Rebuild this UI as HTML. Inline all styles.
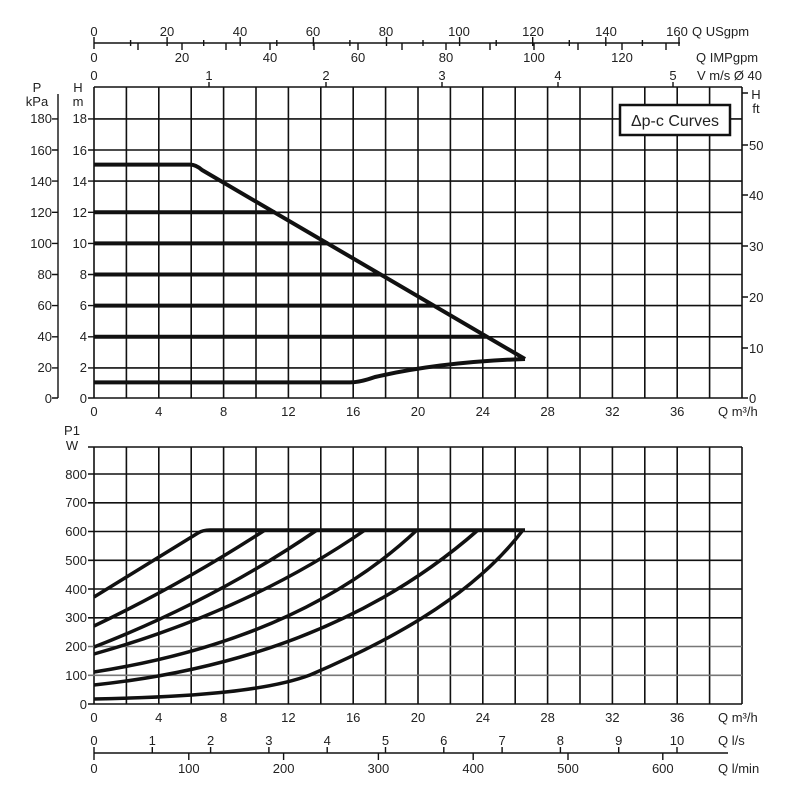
<!DOCTYPE html>
<html><head><meta charset="utf-8"><style>
html,body{margin:0;padding:0;background:#fff;}
svg text{font-family:"Liberation Sans",sans-serif;font-size:13px;fill:#222;}
</style></head><body>
<svg width="800" height="800" viewBox="0 0 800 800" xmlns="http://www.w3.org/2000/svg">
<g stroke="#111" stroke-width="1.6" fill="none">
<path d="M94,87V398M126.4,87V398M158.8,87V398M191.2,87V398M223.6,87V398M256,87V398M288.4,87V398M320.8,87V398M353.2,87V398M385.6,87V398M418,87V398M450.4,87V398M482.8,87V398M515.2,87V398M547.6,87V398M580,87V398M612.4,87V398M644.8,87V398M677.2,87V398M709.6,87V398M742,87V398"/>
<path d="M94,87H742M94,118.9H742M94,150H742M94,181.1H742M94,212.3H742M94,243.4H742M94,274.5H742M94,305.6H742M94,336.8H742M94,367.9H742M94,398H742"/>
<path d="M94,447V704M126.4,447V704M158.8,447V704M191.2,447V704M223.6,447V704M256,447V704M288.4,447V704M320.8,447V704M353.2,447V704M385.6,447V704M418,447V704M450.4,447V704M482.8,447V704M515.2,447V704M547.6,447V704M580,447V704M612.4,447V704M644.8,447V704M677.2,447V704M709.6,447V704M742,447V704"/>
<path d="M88,447H742M88,474H742M88,502.8H742M88,531.5H742M88,560.3H742M88,589H742M88,617.8H742M88,704H742"/>
</g>
<path d="M88,646.5H742M88,675.3H742" stroke="#777" stroke-width="1.6"/>
<g stroke="#111" stroke-width="1.4">
<path d="M58,94V398M52,118.9H58M52,150H58M52,181.1H58M52,212.3H58M52,243.4H58M52,274.5H58M52,305.6H58M52,336.8H58M52,367.9H58M52,398H58"/>
<path d="M88,118.9H94M88,150H94M88,181.1H94M88,212.3H94M88,243.4H94M88,274.5H94M88,305.6H94M88,336.8H94M88,367.9H94M88,398H94"/>
<path d="M742,93H748M742,145H748M742,195H748M742,246H748M742,297H748M742,348H748M742,398H748"/>
<path d="M94,43H680M94,37V49M130.6,40V46M167.1,37V46M203.7,40V46M240.2,37V46M276.8,40V46M313.4,37V46M349.9,40V46M386.5,37V46M423,40V46M459.6,37V46M496.2,40V46M532.7,37V46M569.3,40V46M605.8,37V46M642.4,40V46M679,37V46"/>
<path d="M138,43V50M182,43V50M226,43V50M270,43V50M314,43V50M358,43V50M402,43V50M446,43V50M490,43V50M534,43V50M578,43V50M622,43V50M666,43V50"/>
<path d="M209,82V87M326,82V87M442,82V87M558,82V87M673,82V87"/>
<path d="M94,753H728M94,747V760M152.3,747V753M210.6,747V753M268.9,747V753M327.2,747V753M385.5,747V753M443.8,747V753M502.1,747V753M560.4,747V753M618.7,747V753M677,747V753"/>
<path d="M188.8,753V760M283.6,753V760M378.4,753V760M473.2,753V760M568,753V760M662.8,753V760"/>
</g>
<g stroke="#111" stroke-width="4" fill="none" stroke-linejoin="round">
<path d="M94,164.6H190Q196,164.6 202,170L525,359"/>
<path d="M94,212.3H275M94,243.4H328M94,274.5H380M94,305.6H433M94,336.8H486"/>
<path d="M94,382.4H350Q360,382.4 375,377Q440,362 525,359"/>
</g>
<g stroke="#111" stroke-width="3.5" fill="none" stroke-linejoin="round">
<path d="M94,597L198,533Q203,530 210,530H525"/>
<path d="M94,626Q180,585 265,530"/>
<path d="M94,647Q215,600 317,530"/>
<path d="M94,654Q250,610 365,530"/>
<path d="M94,672Q300,640 417,530"/>
<path d="M94,685Q330,660 478,530"/>
<path d="M94,699C200,697 270,690 310,675C380,645 470,600 523,530"/>
</g>
<rect x="620" y="105" width="110" height="30" fill="#fff" stroke="#111" stroke-width="2.5"/>
<text x="675" y="126" text-anchor="middle" style="font-size:16px">Δp-c Curves</text>
<g text-anchor="middle">
<text x="94" y="36">0</text><text x="167" y="36">20</text><text x="240" y="36">40</text><text x="313" y="36">60</text><text x="386" y="36">80</text><text x="459" y="36">100</text><text x="533" y="36">120</text><text x="606" y="36">140</text><text x="677" y="36">160</text>
<text x="94" y="62">0</text><text x="182" y="62">20</text><text x="270" y="62">40</text><text x="358" y="62">60</text><text x="446" y="62">80</text><text x="534" y="62">100</text><text x="622" y="62">120</text>
<text x="94" y="80">0</text><text x="209" y="80">1</text><text x="326" y="80">2</text><text x="442" y="80">3</text><text x="558" y="80">4</text><text x="673" y="80">5</text>
<text x="94" y="416">0</text><text x="158.8" y="416">4</text><text x="223.6" y="416">8</text><text x="288.4" y="416">12</text><text x="353.2" y="416">16</text><text x="418" y="416">20</text><text x="482.8" y="416">24</text><text x="547.6" y="416">28</text><text x="612.4" y="416">32</text><text x="677.2" y="416">36</text>
<text x="94" y="722">0</text><text x="158.8" y="722">4</text><text x="223.6" y="722">8</text><text x="288.4" y="722">12</text><text x="353.2" y="722">16</text><text x="418" y="722">20</text><text x="482.8" y="722">24</text><text x="547.6" y="722">28</text><text x="612.4" y="722">32</text><text x="677.2" y="722">36</text>
<text x="94" y="745">0</text><text x="152.3" y="745">1</text><text x="210.6" y="745">2</text><text x="268.9" y="745">3</text><text x="327.2" y="745">4</text><text x="385.5" y="745">5</text><text x="443.8" y="745">6</text><text x="502.1" y="745">7</text><text x="560.4" y="745">8</text><text x="618.7" y="745">9</text><text x="677" y="745">10</text>
<text x="94" y="773">0</text><text x="188.8" y="773">100</text><text x="283.6" y="773">200</text><text x="378.4" y="773">300</text><text x="473.2" y="773">400</text><text x="568" y="773">500</text><text x="662.8" y="773">600</text>
<text x="37" y="92">P</text><text x="37" y="106">kPa</text>
<text x="78" y="92">H</text><text x="78" y="106">m</text>
<text x="756" y="99">H</text><text x="756" y="113">ft</text>
<text x="72" y="435">P1</text><text x="72" y="450">W</text>
</g>
<g text-anchor="end">
<text x="52" y="123">180</text><text x="52" y="155">160</text><text x="52" y="186">140</text><text x="52" y="217">120</text><text x="52" y="248">100</text><text x="52" y="279">80</text><text x="52" y="310">60</text><text x="52" y="341">40</text><text x="52" y="372">20</text><text x="52" y="403">0</text>
<text x="87" y="123">18</text><text x="87" y="155">16</text><text x="87" y="186">14</text><text x="87" y="217">12</text><text x="87" y="248">10</text><text x="87" y="279">8</text><text x="87" y="310">6</text><text x="87" y="341">4</text><text x="87" y="372">2</text><text x="87" y="403">0</text>
<text x="87" y="479">800</text><text x="87" y="507">700</text><text x="87" y="536">600</text><text x="87" y="565">500</text><text x="87" y="594">400</text><text x="87" y="622">300</text><text x="87" y="651">200</text><text x="87" y="680">100</text><text x="87" y="709">0</text>
</g>
<g>
<text x="749" y="150">50</text><text x="749" y="200">40</text><text x="749" y="251">30</text><text x="749" y="302">20</text><text x="749" y="353">10</text><text x="749" y="403">0</text>
<text x="692" y="36">Q USgpm</text><text x="696" y="62">Q IMPgpm</text><text x="697" y="80">V m/s Ø 40</text>
<text x="718" y="416">Q m³/h</text><text x="718" y="722">Q m³/h</text><text x="718" y="745">Q l/s</text><text x="718" y="773">Q l/min</text>
</g>
</svg>
</body></html>
